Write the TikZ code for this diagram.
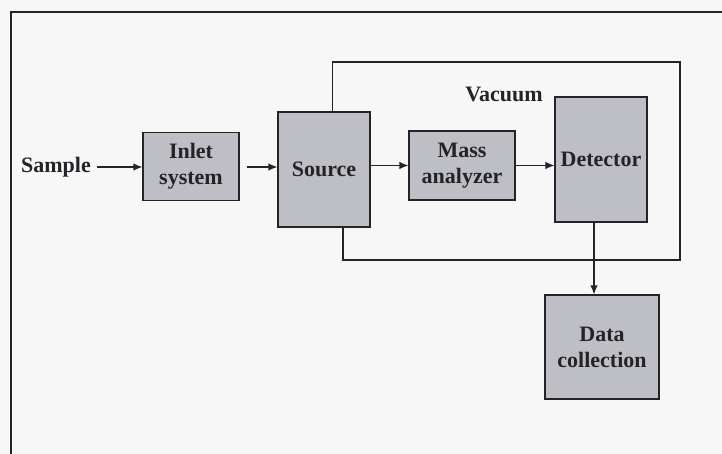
\documentclass[tikz,border=0pt]{standalone}
\usepackage{fontspec}
\setmainfont{Liberation Serif}
\usetikzlibrary{arrows.meta}

\definecolor{boxgray}{RGB}{190,191,197}
\definecolor{pagegray}{RGB}{247,247,247}
\definecolor{inkgray}{RGB}{35,35,40}

\begin{document}
\begin{tikzpicture}[
		x=1pt, y=-1pt,
		every node/.style={font=\fontsize{22}{26}\selectfont\bfseries, text=inkgray, align=center},
		unit/.style={draw=inkgray, fill=boxgray, line width=1.2pt, inner sep=0pt},
		wire/.style={draw=inkgray, line width=1.2pt},
		flow/.style={wire, -{Latex[length=9pt,width=7.5pt]}},
		line cap=butt,
		line join=miter
		]
		% =========================
		% Page and outer frame
		% =========================
		\fill[pagegray] (0,0) rectangle (722,454);
		\useasboundingbox (0,0) rectangle (722,454);
		\draw[inkgray, line width=1.4pt] (11,454) -- (11,12) -- (722,12);
		
		% --------------------------------
		% Units
		% --------------------------------
		\node[unit, minimum width=96pt, minimum height=68pt] (inlet) at (191,166.5) {Inlet\\system};
		\node[unit, minimum width=92pt, minimum height=115pt] (source) at (324,169.5) {Source};
		\node[unit, minimum width=106pt, minimum height=69pt] (mass) at (462,165.5) {Mass\\analyzer};
		\node[unit, minimum width=92pt, minimum height=125pt] (detector) at (601,159.5) {Detector};
		\node[unit, minimum width=114pt, minimum height=104pt] (data) at (602,347) {Data\\collection};
		
		% --------------------------------
		% Labels
		% --------------------------------
		\node[inner sep=2pt] (sample) at (56,167) {Sample};
		\node (vacuum) at (504,94) {Vacuum};
		
		% --------------------------------
		% Vacuum enclosure
		% --------------------------------
		\coordinate (vacNE) at (680,62);
		\coordinate (vacSW) at (343,260);
		\draw[wire]
		([xshift=55pt]source.north west) |- (vacNE) |- (vacSW) -- (vacSW |- source.south);
		
		% --------------------------------
		% Flow of the sample
		% --------------------------------
		\draw[flow, shorten <=4pt] (sample.east) -- (inlet.west |- sample.east);
		\draw[flow, shorten <=7pt] (inlet.east |- sample.east) -- (source.west |- sample.east);
		\draw[flow] (source.east |- mass.west) -- (mass.west);
		\draw[flow] (mass.east) -- (detector.west |- mass.east);
		\draw[flow] ([xshift=-7pt]detector.south) -- ([xshift=-7pt]detector.south |- data.north);
		
	\end{tikzpicture}
\end{document}
